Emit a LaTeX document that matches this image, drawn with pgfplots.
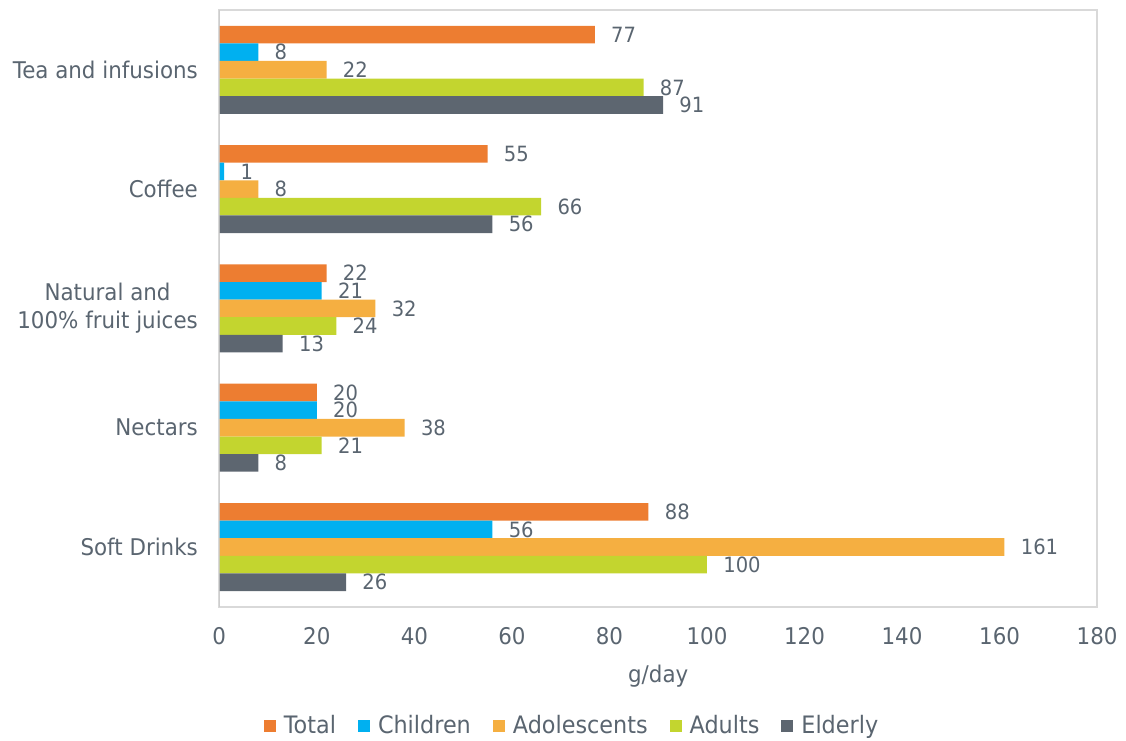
\documentclass[border=0pt]{standalone}
\usepackage{pgfplots}
\pgfplotsset{compat=1.18}
\usepackage{fontspec}
\setmainfont{DejaVu Sans}[FakeStretch=0.93]
\definecolor{cTotal}{HTML}{ED7D31}
\definecolor{cChild}{HTML}{00B0F0}
\definecolor{cAdol}{HTML}{F5AF41}
\definecolor{cAdult}{HTML}{C3D52F}
\definecolor{cEld}{HTML}{5D6670}
\definecolor{txt}{HTML}{5A6570}
\definecolor{framegray}{HTML}{D9D9D9}
\definecolor{leftgray}{HTML}{C8C8C8}
\begin{document}
\begin{tikzpicture}[x=1pt,y=1pt]
\useasboundingbox (0,0) rectangle (563,370);
\begin{axis}[
  at={(109.65pt,66.65pt)}, anchor=south west,
  scale only axis, width=438.9pt, height=298.3pt,
  xmin=0, xmax=180, ymin=-0.5, ymax=4.5,
  xbar, bar width=8.8pt,
  /pgf/number format/assume math mode=true,
  xtick={0,20,...,180}, ytick={0,1,2,3,4},
  yticklabels={Soft Drinks, Nectars, {Natural and\\100\% fruit juices}, Coffee, Tea and infusions},
  major tick length=0pt,
  axis line style={draw=framegray, line width=0.8pt},
  tick label style={font=\fontsize{11.5}{14.2}\selectfont, text=txt},
  yticklabel style={align=center},
  xticklabel shift=6.8pt, yticklabel shift=7.2pt,
  xlabel={g/day},
  xlabel style={at={(axis description cs:0.5,0)}, anchor=north, yshift=-25.4pt, font=\fontsize{11.5}{14}\selectfont, text=txt},
  nodes near coords,
  nodes near coords style={font=\fontsize{10.5}{12}\selectfont, text=txt, anchor=west, inner sep=0pt, xshift=8pt},
  legend columns=5,
  legend style={draw=none, at={(0.403,-0.2)}, anchor=center, font=\fontsize{12}{14}\selectfont, text=txt,
    /tikz/every odd column/.append style={column sep=2pt},
    /tikz/every even column/.append style={column sep=9pt}},
  legend image code/.code={\fill[#1,draw=none] (0pt,-3pt) rectangle (6pt,3pt);},
]
\addplot[fill=cTotal, draw=none, bar shift=17.6pt] coordinates {(88,0) (20,1) (22,2) (55,3) (77,4)};
\addplot[fill=cChild, draw=none, bar shift=8.8pt] coordinates {(56,0) (20,1) (21,2) (1,3) (8,4)};
\addplot[fill=cAdol, draw=none, bar shift=0pt] coordinates {(161,0) (38,1) (32,2) (8,3) (22,4)};
\addplot[fill=cAdult, draw=none, bar shift=-8.8pt] coordinates {(100,0) (21,1) (24,2) (66,3) (87,4)};
\addplot[fill=cEld, draw=none, bar shift=-17.6pt] coordinates {(26,0) (8,1) (13,2) (56,3) (91,4)};
\legend{Total, Children, Adolescents, Adults, Elderly}
\draw[color=leftgray, line width=1.2pt] (rel axis cs:0,0) -- (rel axis cs:0,1);
\end{axis}
\end{tikzpicture}
\end{document}
